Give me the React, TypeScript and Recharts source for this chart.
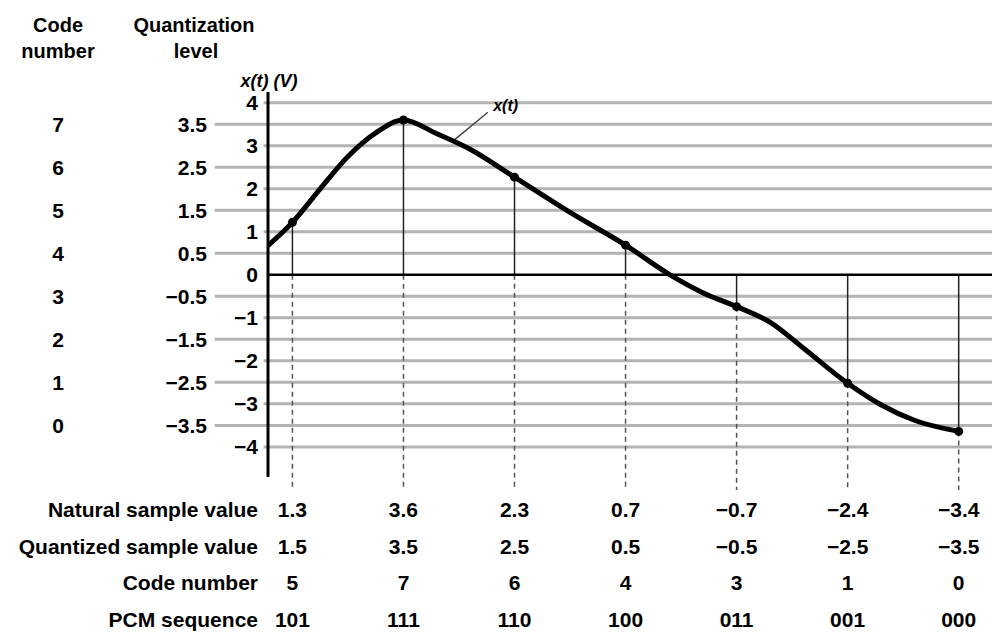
import React from 'react';
import { ComposedChart, Line, XAxis, YAxis, ReferenceLine, ReferenceDot } from 'recharts';

// samples, one per sample period
const sampleTimes = [0, 1, 2, 3, 4, 5, 6];
const naturalValues = [1.3, 3.6, 2.3, 0.7, -0.7, -2.4, -3.4];
const quantizedValues = [1.5, 3.5, 2.5, 0.5, -0.5, -2.5, -3.5];
const codeNumbers = [5, 7, 6, 4, 3, 1, 0];
const pcmSequence = ['101', '111', '110', '100', '011', '001', '000'];
const rowLabels = ['Natural sample value', 'Quantized sample value', 'Code number', 'PCM sequence'];

// x(t) (t in sample periods)
const curveT = [-0.22, 0, 0.25, 0.5, 0.75, 1, 1.3, 1.6, 2, 2.5, 3, 3.4, 3.7, 4, 4.3, 4.6, 5, 5.3, 5.6, 6];
const curveV = [0.68, 1.22, 2.0, 2.75, 3.3, 3.6, 3.28, 2.92, 2.27, 1.45, 0.69, 0.0, -0.42, -0.74, -1.1, -1.7, -2.52, -3.02, -3.38, -3.64];

// axis levels
const voltTicks = [4, 3, 2, 1, 0, -1, -2, -3, -4];
const quantLevels = [3.5, 2.5, 1.5, 0.5, -0.5, -1.5, -2.5, -3.5];
const levelCodes = [7, 6, 5, 4, 3, 2, 1, 0];

const curveData = curveT.map((t, i) => ({ t, v: curveV[i] }));
// sample marks sit on the drawn curve
const sampleData = curveData.filter((d) => sampleTimes.includes(d.t));

const FONT = 'Liberation Sans, Arial, sans-serif';
const txt = { fontFamily: FONT, fontWeight: 700, fontSize: 21, fill: '#000' };
const fmt = (v: number) => (v < 0 ? '\u2212' + Math.abs(v) : String(v));

const LevelTick = (props: any) => {
  const { x, y, payload } = props;
  const v = payload.value;
  const qi = quantLevels.indexOf(v);
  if (qi < 0) {
    return (
      <text x={x} y={y} dy="0.35em" textAnchor="end" {...txt}>
        {fmt(v)}
      </text>
    );
  }
  return (
    <g>
      <text x={x - 51} y={y} dy="0.35em" textAnchor="end" {...txt}>
        {fmt(v)}
      </text>
      <text x={x - 200} y={y} dy="0.35em" textAnchor="middle" {...txt}>
        {levelCodes[qi]}
      </text>
    </g>
  );
};

const rowOffsets = [33, 70, 106, 143];

const TableTick = (props: any) => {
  const { x, y, payload } = props;
  const i = sampleTimes.indexOf(payload.value);
  if (i < 0) return <g />;
  const cells = [fmt(naturalValues[i]), fmt(quantizedValues[i]), String(codeNumbers[i]), pcmSequence[i]];
  return (
    <g>
      {cells.map((c, r) => (
        <text key={r} x={x} y={y + rowOffsets[r]} dy="0.35em" textAnchor="middle" {...txt}>
          {c}
        </text>
      ))}
    </g>
  );
};

const RowLabels = (props: any) => {
  const vb = props.viewBox || { x: 268, y: 477 };
  return (
    <g>
      {rowLabels.map((l, r) => (
        <text key={l} x={vb.x - 10} y={vb.y + rowOffsets[r]} dy="0.35em" textAnchor="end" {...txt}>
          {l}
        </text>
      ))}
    </g>
  );
};

const AxisHeader = (props: any) => {
  const vb = props.viewBox || { x: 0, y: 92 };
  const h = { ...txt, fontSize: 20 };
  return (
    <g>
      <text x={vb.x + 58} y={vb.y - 67} dy="0.35em" textAnchor="middle" {...h}>Code</text>
      <text x={vb.x + 58} y={vb.y - 41} dy="0.35em" textAnchor="middle" {...h}>number</text>
      <text x={vb.x + 194} y={vb.y - 67} dy="0.35em" textAnchor="middle" {...h}>Quantization</text>
      <text x={vb.x + 196} y={vb.y - 41} dy="0.35em" textAnchor="middle" {...h}>level</text>
      <text x={vb.x + 269} y={vb.y - 11} dy="0.35em" textAnchor="middle" {...h} fontSize={18} fontStyle="italic">
        x(t) (V)
      </text>
    </g>
  );
};

const App: React.FC = () => (
  <div style={{ position: 'absolute', left: 0, top: 0, background: '#fff' }}>
    <ComposedChart width={996} height={633} margin={{ top: 92, right: 4, bottom: 0, left: 0 }}>
      <XAxis
        dataKey="t"
        type="number"
        domain={[-0.22, 6.3]}
        ticks={sampleTimes}
        interval={0}
        axisLine={false}
        tickLine={false}
        tickSize={0}
        tickMargin={0}
        height={156}
        allowDataOverflow
        tick={TableTick}
        label={RowLabels}
      />
      <YAxis
        type="number"
        domain={[-4.7, 4.25]}
        ticks={[...voltTicks, ...quantLevels]}
        interval={0}
        width={268}
        axisLine={{ stroke: '#000', strokeWidth: 3 }}
        tickLine={false}
        tickSize={0}
        tickMargin={10}
        allowDataOverflow
        tick={LevelTick}
        label={AxisHeader}
      />
      {quantLevels.map((lv) => (
        <ReferenceLine
          key={'q' + lv}
          segment={[{ x: -0.7, y: lv }, { x: 6.3, y: lv }]}
          ifOverflow="visible"
          stroke="#b3b3b3"
          strokeWidth={3}
        />
      ))}
      {voltTicks.filter((v) => v !== 0).map((lv) => (
        <ReferenceLine
          key={'v' + lv}
          segment={[{ x: -0.26, y: lv }, { x: 6.3, y: lv }]}
          ifOverflow="visible"
          stroke="#b3b3b3"
          strokeWidth={3}
        />
      ))}
      {sampleData.map((d) => (
        <ReferenceLine
          key={'d' + d.t}
          segment={[{ x: d.t, y: Math.min(0, d.v) }, { x: d.t, y: -5 }]}
          ifOverflow="visible"
          stroke="#555"
          strokeWidth={1.5}
          strokeDasharray="5 4"
        />
      ))}
      {sampleData.map((d) => (
        <ReferenceLine
          key={'s' + d.t}
          segment={[{ x: d.t, y: 0 }, { x: d.t, y: d.v }]}
          ifOverflow="visible"
          stroke="#222"
          strokeWidth={1.5}
        />
      ))}
      <ReferenceLine y={0} stroke="#000" strokeWidth={2.5} />
      <ReferenceLine
        segment={[{ x: 1.45, y: 3.12 }, { x: 1.76, y: 3.78 }]}
        ifOverflow="visible"
        stroke="#444"
        strokeWidth={1.5}
      />
      <ReferenceDot
        x={1.92}
        y={3.95}
        r={0}
        ifOverflow="visible"
        label={(p: any) => (
          <text x={p.viewBox.x} y={p.viewBox.y} dy="0.35em" textAnchor="middle" {...txt} fontSize={16} fontStyle="italic">
            x(t)
          </text>
        )}
      />
      <Line
        data={curveData}
        dataKey="v"
        type="monotone"
        stroke="#000"
        strokeWidth={5}
        dot={false}
        isAnimationActive={false}
      />
      <Line
        data={sampleData}
        dataKey="v"
        stroke="none"
        dot={{ r: 4.5, fill: '#000', stroke: 'none' }}
        isAnimationActive={false}
      />
    </ComposedChart>
  </div>
);

export default App;
